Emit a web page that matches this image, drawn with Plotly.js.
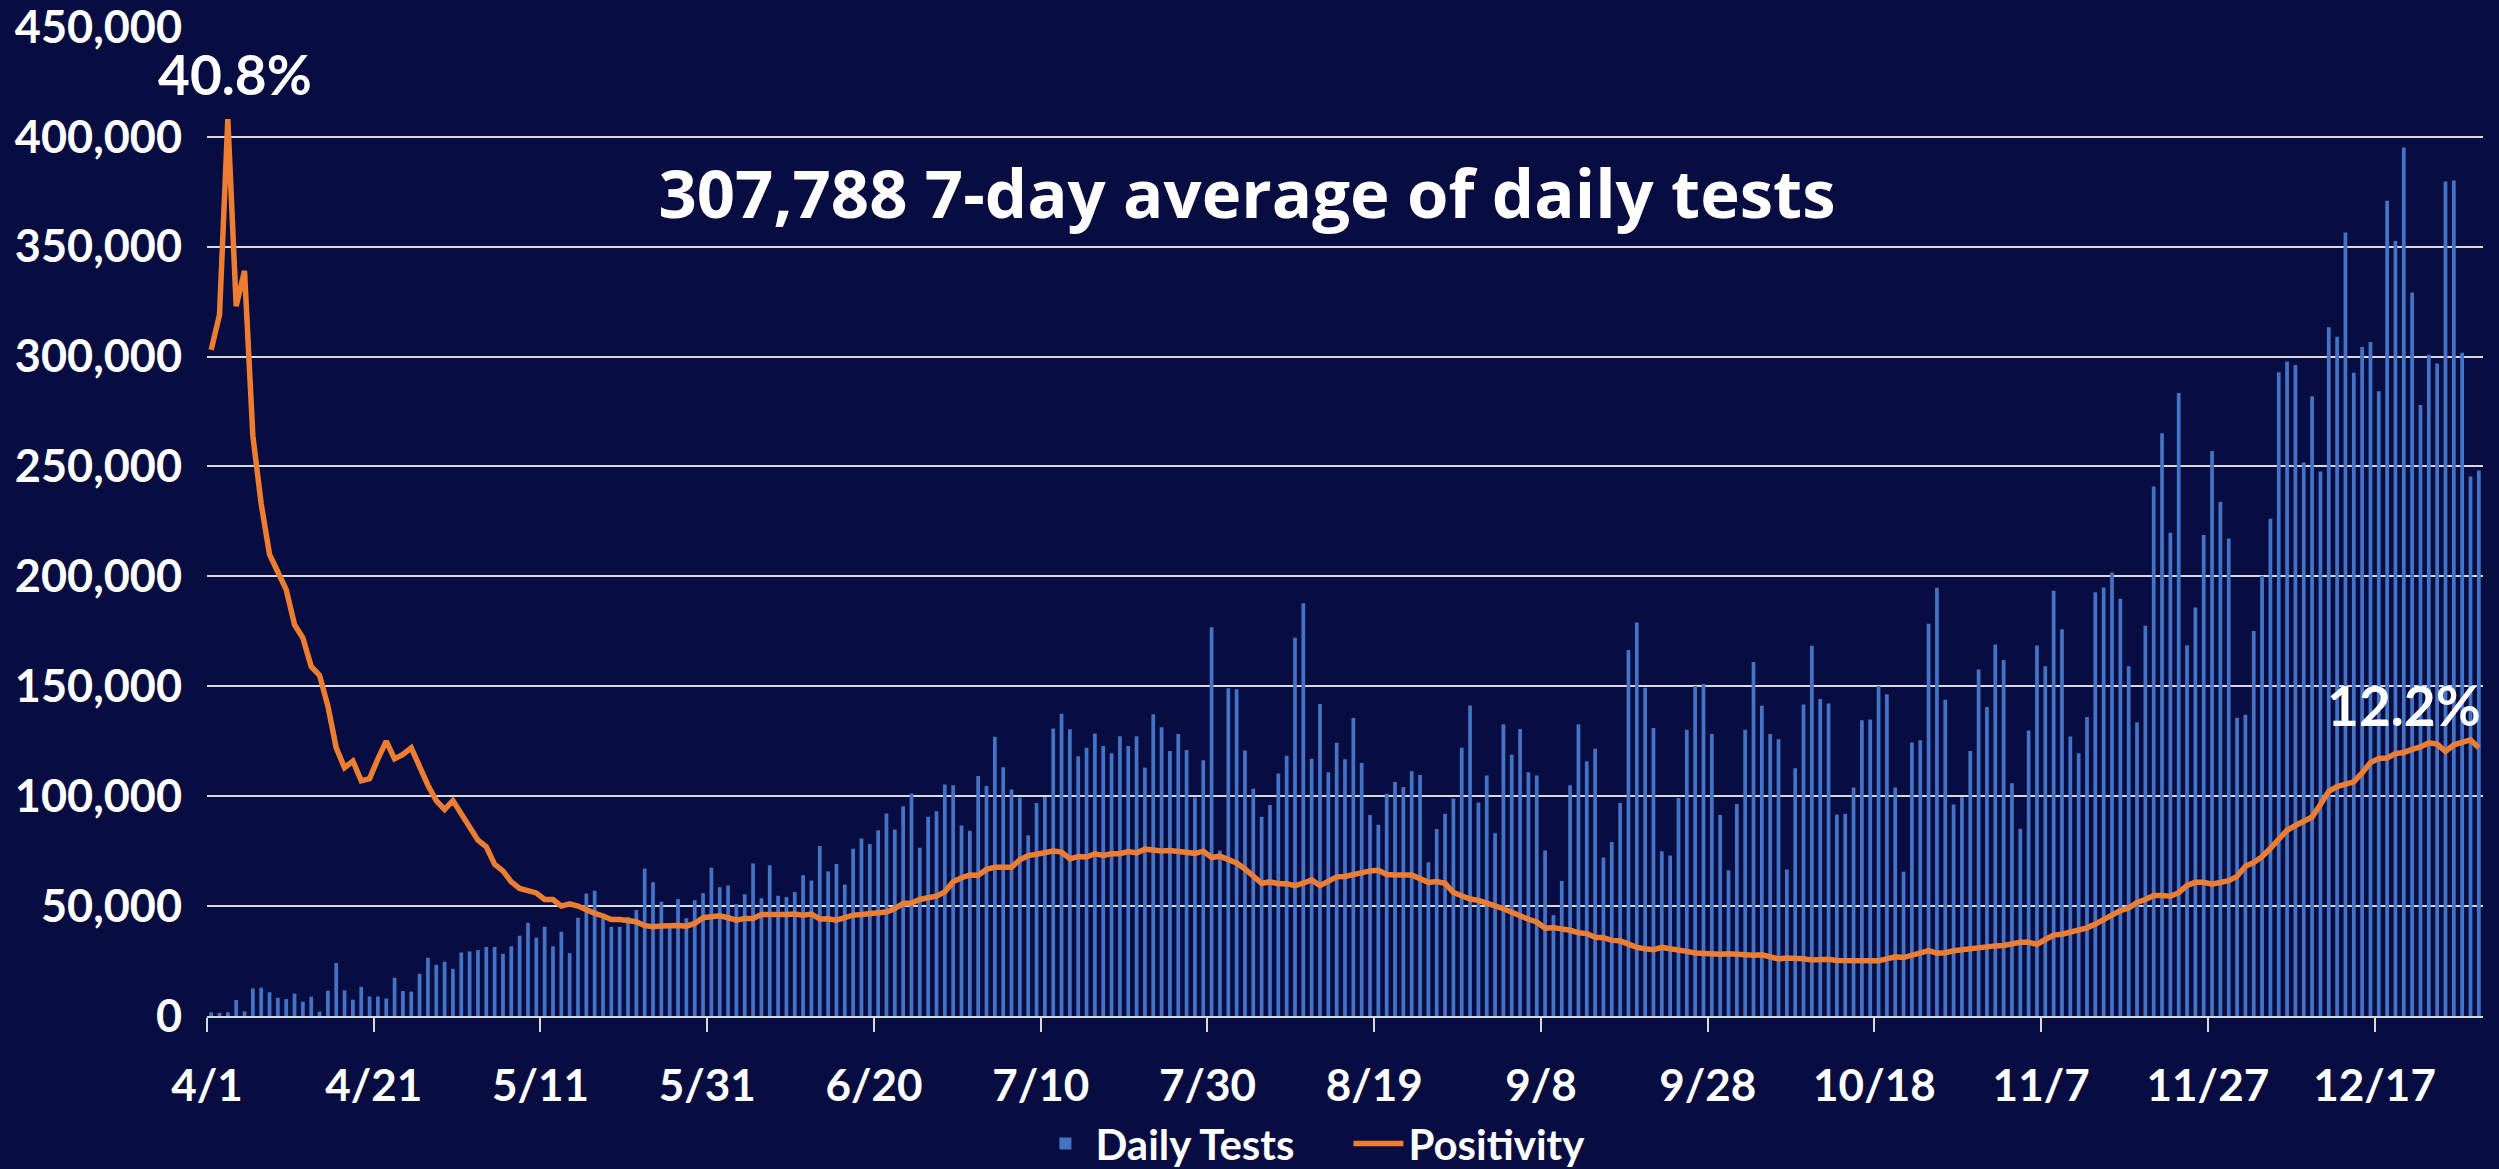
<!DOCTYPE html>
<html>
<head>
<meta charset="utf-8">
<script src="https://cdn.plot.ly/plotly-3.0.1.min.js"></script>
<style>
  html, body { margin: 0; padding: 0; background: #070D40; }
  #chart { width: 2499px; height: 1169px; }
</style>
</head>
<body>
<div id="chart"></div>
<script>
// ---- DATA ----
const startDate = '2020-04-01';

const dailyTests = [
  1700, 1400, 1700, 7300, 2100, 12600, 12900, 10800, 8300, 7700,
  10200, 6500, 8800, 2000, 11500, 24100, 11700, 7400, 13300, 8900,
  8900, 8000, 17400, 11400, 11100, 19200, 26500, 23300, 24700, 21500,
  28900, 29400, 30000, 31400, 31400, 28300, 31700, 36500, 42400, 35600,
  40600, 31700, 38300, 28600, 44700, 55700, 57000, 44400, 40600, 40600,
  45100, 48200, 67100, 60900, 52000, 41000, 53200, 44500, 52700, 55900,
  67400, 58600, 59400, 50900, 55400, 69400, 53600, 68600, 54700, 54100,
  56400, 64100, 61700, 77300, 65800, 69100, 59800, 76100, 80700, 78200,
  84500, 92100, 84800, 95400, 101200, 76500, 90600, 93200, 105300, 105000,
  86700, 84300, 109200, 104600, 127000, 113200, 103100, 99400, 82200, 96900,
  99600, 130800, 137500, 130400, 118200, 122000, 128500, 122800, 119500, 127300,
  122800, 127300, 113000, 137300, 131400, 120600, 128300, 121000, 99400, 116300,
  176900, 75300, 149100, 148600, 120800, 103400, 90600, 96000, 110300, 118400,
  172100, 187800, 117000, 141900, 110900, 124300, 116800, 135600, 115100, 91400,
  87000, 101100, 106500, 104200, 111300, 109700, 70000, 85100, 92000, 98900,
  122000, 141300, 97100, 109400, 83200, 132700, 118900, 130600, 110900, 109400,
  75300, 45900, 61400, 105000, 132700, 115900, 121600, 72100, 79200, 96900,
  166500, 179000, 149300, 131000, 75000, 73000, 99200, 130200, 150100, 151000,
  128300, 91400, 66300, 96400, 130200, 161100, 141100, 128300, 125900, 66700,
  112700, 141700, 168400, 144200, 142200, 91600, 92000, 103900, 134500, 134900,
  150100, 146400, 103900, 65600, 124400, 125500, 178500, 194800, 143900, 96200,
  99500, 120600, 157600, 140600, 169000, 162000, 105900, 85200, 129900, 168600,
  159100, 193500, 175900, 127200, 119500, 136000, 192800, 195000, 201800, 189800,
  159100, 133600, 177500, 240900, 265100, 219900, 283400, 168700, 185800, 218800,
  257000, 233800, 217200, 135700, 137100, 175200, 200300, 226200, 292900, 297800,
  296200, 251800, 282000, 247700, 313400, 309000, 356400, 292700, 304400, 306600,
  284200, 370900, 352600, 395100, 329200, 278000, 300800, 296800, 379600, 380100,
  301700, 245500, 248200
];

const positivity = [
  30.3, 31.9, 40.8, 32.3, 33.9, 26.4, 23.3, 21.0, 20.2, 19.4,
  17.8, 17.2, 15.9, 15.5, 14.1, 12.2, 11.3, 11.6, 10.7, 10.8,
  11.7, 12.5, 11.7, 11.9, 12.2, 11.3, 10.5, 9.8, 9.4, 9.8,
  9.2, 8.5, 8.0, 7.7, 6.9, 6.6, 6.1, 5.8, 5.7, 5.6,
  5.3, 5.3, 5.0, 5.1, 5.0, 4.82, 4.67, 4.55, 4.39, 4.39,
  4.36, 4.29, 4.11, 4.06, 4.09, 4.12, 4.12, 4.09, 4.21, 4.47,
  4.51, 4.56, 4.47, 4.36, 4.44, 4.44, 4.62, 4.65, 4.62, 4.62,
  4.64, 4.59, 4.64, 4.41, 4.42, 4.36, 4.50, 4.59, 4.62, 4.64,
  4.67, 4.73, 4.89, 5.12, 5.14, 5.30, 5.38, 5.45, 5.65, 6.11,
  6.29, 6.41, 6.40, 6.67, 6.77, 6.77, 6.77, 7.11, 7.30, 7.36,
  7.46, 7.51, 7.46, 7.15, 7.25, 7.23, 7.38, 7.30, 7.38, 7.38,
  7.48, 7.42, 7.59, 7.53, 7.51, 7.53, 7.50, 7.48, 7.40, 7.50,
  7.21, 7.27, 7.11, 6.96, 6.69, 6.35, 6.04, 6.10, 6.02, 6.02,
  5.93, 6.04, 6.19, 5.93, 6.16, 6.33, 6.35, 6.44, 6.48, 6.60,
  6.63, 6.44, 6.42, 6.39, 6.42, 6.25, 6.08, 6.12, 6.04, 5.62,
  5.49, 5.32, 5.26, 5.11, 5.01, 4.88, 4.72, 4.51, 4.40, 4.28,
  4.00, 4.02, 3.98, 3.90, 3.79, 3.75, 3.58, 3.56, 3.44, 3.42,
  3.27, 3.12, 3.06, 3.02, 3.12, 3.04, 2.98, 2.94, 2.87, 2.83,
  2.81, 2.81, 2.83, 2.81, 2.73, 2.76, 2.78, 2.71, 2.60, 2.64,
  2.64, 2.60, 2.55, 2.58, 2.58, 2.53, 2.51, 2.49, 2.51, 2.51,
  2.51, 2.58, 2.69, 2.66, 2.77, 2.91, 2.97, 2.86, 2.88, 2.97,
  3.02, 3.04, 3.13, 3.19, 3.19, 3.21, 3.30, 3.35, 3.35, 3.26,
  3.48, 3.68, 3.72, 3.81, 3.92, 4.01, 4.18, 4.40, 4.62, 4.80,
  4.91, 5.17, 5.30, 5.48, 5.48, 5.45, 5.61, 5.94, 6.08, 6.08,
  6.00, 6.08, 6.16, 6.35, 6.81, 6.98, 7.25, 7.63, 8.07, 8.45,
  8.67, 8.83, 9.05, 9.62, 10.22, 10.44, 10.57, 10.65, 11.06, 11.53,
  11.72, 11.74, 11.94, 11.99, 12.13, 12.24, 12.43, 12.37, 12.04, 12.34,
  12.45, 12.56, 12.2
];

const tickDates  = ['2020-04-01','2020-04-21','2020-05-11','2020-05-31','2020-06-20','2020-07-10','2020-07-30',
                    '2020-08-19','2020-09-08','2020-09-28','2020-10-18','2020-11-07','2020-11-27','2020-12-17'];
const tickLabels = ['4/1','4/21','5/11','5/31','6/20','7/10','7/30','8/19','9/8','9/28','10/18','11/7','11/27','12/17'];
const yTickValues = [0, 50000, 100000, 150000, 200000, 250000, 300000, 350000, 400000, 450000];

const titleText = '307,788 7-day average of daily tests';
const seriesNames = ['Daily Tests', 'Positivity'];

// ---- BUILD ----
function dayString(offset) {
  const p = startDate.split('-').map(Number);
  const d = new Date(Date.UTC(p[0], p[1] - 1, p[2] + offset));
  return d.toISOString().slice(0, 10);
}
const dates = dailyTests.map((_, i) => dayString(i));
const rangeEnd = dayString(dates.length);
const DAY = 86400000;

const FONT = 'Lato, "Open Sans", sans-serif';
const TITLE_FONT = '"Open Sans", Lato, sans-serif';
const BG = '#070D40';
const GRID = '#D9D9D9';

const iMax = positivity.indexOf(Math.max(...positivity));
const iLast = positivity.length - 1;

const traces = [
  {
    type: 'bar', name: seriesNames[0], x: dates, y: dailyTests,
    xperiod: DAY, xperiodalignment: 'middle',
    width: 0.45 * DAY,
    marker: { color: '#4472C4', line: { width: 0 } },
    hoverinfo: 'skip'
  },
  {
    type: 'scatter', mode: 'lines', name: seriesNames[1], x: dates, y: positivity,
    xperiod: DAY, xperiodalignment: 'middle',
    yaxis: 'y2',
    line: { color: '#ED7D31', width: 5.5 },
    hoverinfo: 'skip'
  }
];

const layout = {
  width: 2499, height: 1169,
  paper_bgcolor: BG, plot_bgcolor: BG,
  margin: { l: 207, r: 16, t: 26, b: 153, autoexpand: false },
  font: { family: FONT, color: '#FFFFFF', weight: 'bold' },
  showlegend: true,
  title: {
    text: titleText,
    font: { family: TITLE_FONT, size: 67, color: '#FFFFFF', weight: 'bold' },
    xref: 'container', yref: 'container',
    x: 0.499, xanchor: 'center',
    y: 0.834, yanchor: 'middle'
  },
  xaxis: {
    type: 'date',
    range: [startDate, rangeEnd],
    tickvals: tickDates, ticktext: tickLabels,
    ticks: 'outside', ticklen: 14, tickwidth: 2, tickcolor: GRID,
    ticklabelstandoff: 16,
    showline: true, linecolor: GRID, linewidth: 2,
    showgrid: false, zeroline: false, automargin: false,
    tickfont: { family: FONT, size: 44, color: '#FFFFFF', weight: 'bold' }
  },
  yaxis: {
    range: [0, 450400],
    tickvals: yTickValues,
    tickformat: ',d',
    showgrid: true, gridcolor: GRID, gridwidth: 2,
    zeroline: false, showline: false, ticks: '',
    ticklabelstandoff: 24, ticklabeloverflow: 'allow', automargin: false,
    tickfont: { family: FONT, size: 45, color: '#FFFFFF', weight: 'bold' }
  },
  yaxis2: {
    overlaying: 'y', side: 'right', range: [0, 45.04],
    visible: false, showgrid: false, zeroline: false
  },
  legend: {
    orientation: 'h', x: 0.5015, xanchor: 'center', y: -0.129, yanchor: 'middle',
    font: { family: FONT, size: 42, color: '#FFFFFF', weight: 'bold' },
    bgcolor: 'rgba(0,0,0,0)', itemwidth: 50, tracegroupgap: 0,
    entrywidth: 248, entrywidthmode: 'pixels'
  },
  annotations: [
    {
      x: dates[iMax] + ' 12:00', y: positivity[iMax], xref: 'x', yref: 'y2',
      text: positivity[iMax].toFixed(1) + '%', showarrow: false,
      xanchor: 'center', yanchor: 'bottom', xshift: 7, yshift: 10,
      font: { family: FONT, size: 55, color: '#FFFFFF', weight: 'bold' }
    },
    {
      x: dates[iLast] + ' 12:00', y: positivity[iLast], xref: 'x', yref: 'y2',
      text: positivity[iLast].toFixed(1) + '%', showarrow: false,
      xanchor: 'right', yanchor: 'bottom', xshift: 4, yshift: 8,
      font: { family: FONT, size: 55, color: '#FFFFFF', weight: 'bold' }
    }
  ]
};

Plotly.newPlot('chart', traces, layout, { staticPlot: true, displayModeBar: false });
</script>
</body>
</html>
